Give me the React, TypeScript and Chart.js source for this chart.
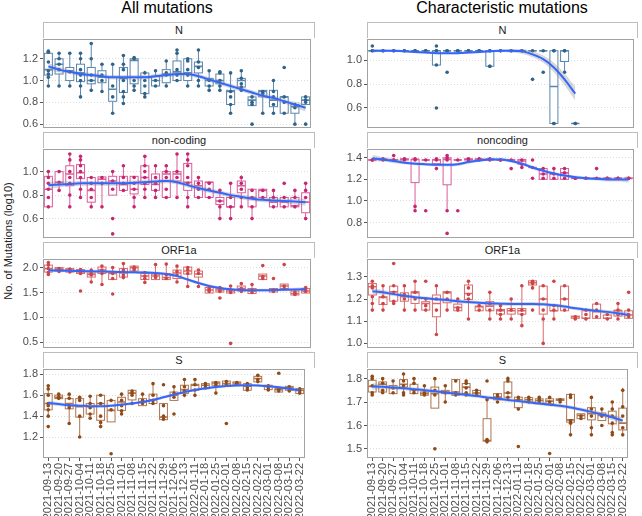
import React, { useEffect, useRef } from "react";
import { Chart, registerables } from "chart.js";
Chart.register(...registerables);

const FONT = "'Liberation Sans', Arial, sans-serif";

const weeks = ["2021-09-13","2021-09-20","2021-09-27","2021-10-04","2021-10-11","2021-10-18","2021-10-25","2021-11-01","2021-11-08","2021-11-15","2021-11-22","2021-11-29","2021-12-06","2021-12-13","2022-01-11","2022-01-18","2022-01-25","2022-02-01","2022-02-08","2022-02-15","2022-02-22","2022-03-01","2022-03-08","2022-03-15","2022-03-22"];

// ---------- All mutations: N ----------
const nAllTicks = [0.6, 0.8, 1.0, 1.2];
const nAllBox = [[0.95,1.05,1.10,1.25,1.27],[0.95,1.06,1.15,1.20,1.25],[0.95,1.00,1.09,1.12,1.25],[0.85,0.99,1.07,1.15,1.25],[0.91,0.97,1.00,1.12,1.34],[0.90,0.98,1.03,1.09,1.15],[0.70,0.81,0.92,1.03,1.15],[0.79,0.89,1.02,1.12,1.23],[0.91,0.97,1.185,1.20,1.21],[0.85,0.88,1.03,1.07,1.09],[0.95,0.95,1.00,1.04,1.09],[0.95,0.98,1.06,1.10,1.18],[1.00,1.00,1.08,1.18,1.28],[0.95,1.00,1.07,1.20,1.20],[0.95,1.07,1.13,1.17,1.28],[0.91,0.95,1.00,1.02,1.09],[0.91,0.97,1.00,1.06,1.09],[0.70,0.78,0.90,0.91,1.07],[0.91,0.94,1.00,1.02,1.09],[0.77,0.77,0.82,0.85,0.85],[0.70,0.85,0.90,0.91,0.91],[0.70,0.76,0.82,0.91,1.00],[0.70,0.70,0.85,0.85,0.85],[0.60,0.70,0.76,0.78,0.78],[0.78,0.78,0.82,0.85,0.85]];
const nAllPts = [[1.27,1.26,1.17,1.09,1.06,1.03,0.95],[1.25,1.20,1.15,1.10,0.95],[1.25,1.08,0.95],[1.25,1.20,1.10,1.05,1.00,0.95,0.85],[1.34,1.20,1.05,1.00,0.91],[1.15,1.05,1.00,0.90],[1.15,0.95,0.85,0.70],[1.23,1.15,1.10,1.00,0.90,0.85,0.79],[1.21,1.20,1.00,0.95,0.91],[1.07,1.00,0.95,0.88,0.85],[1.09,1.00,0.95],[1.18,1.07,1.05,0.95],[1.28,1.25,1.10,1.05,1.00],[1.20,1.18,1.10,1.05,0.95],[1.28,1.17,1.12,1.00,0.95],[1.09,1.00,0.95,0.91],[1.08,1.07,1.00,0.95,0.91],[1.07,0.90,0.85,0.78,0.70],[1.09,1.02,0.97,0.94,0.91],[0.85,0.80,0.78,0.60],[0.90,0.88,0.70],[1.00,0.90,0.85,0.78,0.70],[1.12,0.85,0.80,0.70],[0.78,0.75,0.60],[0.85,0.82,0.80,0.60]];
const nAllFit = [1.13,1.10,1.08,1.06,1.05,1.04,1.03,1.03,1.03,1.03,1.04,1.05,1.06,1.06,1.04,1.01,0.98,0.95,0.92,0.89,0.86,0.84,0.81,0.78,0.75];
const nAllSe = [0.03,0.025,0.02,0.02,0.02,0.02,0.02,0.02,0.02,0.02,0.02,0.02,0.02,0.02,0.02,0.02,0.02,0.02,0.02,0.02,0.02,0.02,0.02,0.025,0.035];

// ---------- Characteristic: N ----------
const nChTicks = [0.6, 0.8, 1.0];
const F108 = [1.08,1.08,1.08,1.08,1.08];
const nChBox = [F108,F108,F108,F108,F108,F108,[0.96,0.96,1.08,1.08,1.08],F108,F108,F108,F108,[0.95,0.95,1.08,1.08,1.08],F108,F108,F108,F108,F108,[0.47,0.47,0.78,1.08,1.08],[0.90,0.99,1.08,1.08,1.08],[0.47,0.47,0.47,0.47,0.47],null,null,null,null,null];
const nChPts = [[1.12,1.08,1.08],[1.08,1.08],[1.08,1.08],[1.08,1.08],[1.08,1.08],[1.08,1.08],[1.12,1.08,1.08,0.96,0.60],[1.08,1.08,0.90],[1.08,1.08],[1.08,1.08],[1.08,1.08],[1.08,1.08,0.95,0.95],[1.08,1.08],[1.08,1.08],[1.08,1.08],[1.08,0.84],[1.08,0.90],[1.08,1.08,0.47,0.47],[1.08,1.08,0.90],[0.47,0.47],[],[],[],[],[]];
const nChFit = [1.08,1.08,1.08,1.075,1.07,1.065,1.06,1.06,1.06,1.065,1.07,1.075,1.08,1.08,1.075,1.05,1.01,0.94,0.84,0.72,null,null,null,null,null];
const nChSe = [0.015,0.01,0.01,0.01,0.01,0.01,0.01,0.01,0.01,0.01,0.01,0.01,0.01,0.015,0.02,0.025,0.03,0.04,0.05,0.06,null,null,null,null,null];

// ---------- All mutations: non-coding ----------
const ncAllTicks = [0.6, 0.8, 1.0];
const ncAllBox = [[0.70,0.70,0.85,0.96,1.00],[0.84,0.89,0.91,1.00,1.00],[0.70,0.88,0.98,1.05,1.15],[0.78,0.94,0.99,1.06,1.13],[0.70,0.74,0.84,0.95,0.95],[0.70,0.90,0.935,0.955,0.955],[0.80,0.80,0.92,0.96,1.00],[0.84,0.84,0.89,0.96,1.05],[0.70,0.81,0.85,0.96,0.96],[0.78,0.89,0.95,1.05,1.13],[0.78,0.84,0.89,0.98,1.05],[0.78,0.78,0.98,1.00,1.05],[0.78,0.92,0.98,1.00,1.15],[0.70,0.84,0.91,1.07,1.15],[0.78,0.78,0.88,0.92,0.96],[0.78,0.78,0.91,0.91,0.91],[0.60,0.72,0.75,0.78,0.85],[0.60,0.70,0.70,0.78,0.91],[0.70,0.82,0.88,0.92,0.97],[0.60,0.70,0.78,0.85,0.85],[0.78,0.78,0.84,0.85,0.85],[0.70,0.70,0.74,0.78,0.84],[0.70,0.70,0.74,0.78,0.78],[0.70,0.70,0.71,0.78,0.84],[0.60,0.65,0.74,0.82,0.90]];
const ncAllPts = [[1.00,0.95,0.90,0.85,0.78,0.70],[1.00,0.91,0.84],[1.15,1.10,1.00,0.95,0.90,0.80,0.70],[1.13,1.10,1.05,1.00,0.95,0.85,0.78],[0.95,0.90,0.85,0.78,0.70],[0.95,0.90,0.70],[1.00,0.92,0.85,0.60,0.47],[1.05,0.95,0.90,0.84],[0.95,0.90,0.85,0.78,0.70],[1.13,1.05,1.00,0.95,0.90,0.85,0.78],[1.05,0.95,0.90,0.84,0.78],[1.05,1.00,0.95,0.85,0.78],[1.15,1.00,0.95,0.78],[1.15,1.10,1.05,0.95,0.90,0.78,0.70],[0.95,0.90,0.85,0.78],[0.90,0.85,0.78],[0.84,0.75,0.70,0.60],[0.90,0.78,0.70,0.60],[0.95,0.90,0.85,0.78,0.70],[0.84,0.78,0.70,0.60],[0.84,0.78],[0.84,0.78,0.70],[0.90,0.78,0.70],[0.84,0.78,0.70],[0.90,0.84,0.78,0.60]];
const ncAllFit = [0.885,0.89,0.895,0.90,0.90,0.90,0.90,0.90,0.905,0.91,0.915,0.92,0.91,0.885,0.86,0.84,0.82,0.80,0.785,0.77,0.76,0.755,0.75,0.745,0.74];
const ncAllSe = [0.03,0.025,0.02,0.02,0.02,0.02,0.02,0.02,0.02,0.02,0.02,0.02,0.02,0.02,0.02,0.02,0.02,0.02,0.02,0.02,0.02,0.02,0.02,0.025,0.03];

// ---------- Characteristic: noncoding ----------
const ncChTicks = [0.8, 1.0, 1.2, 1.4];
const F138 = [1.38,1.38,1.38,1.38,1.38];
const F139 = [1.38,1.38,1.385,1.39,1.39];
const F121 = [1.21,1.21,1.21,1.21,1.21];
const ncChBox = [F138,F139,[1.38,1.38,1.38,1.385,1.385],F139,[0.91,1.17,1.385,1.385,1.39],F138,[1.34,1.345,1.38,1.385,1.39],[0.91,1.15,1.385,1.40,1.42],F138,F139,F139,F139,F138,F138,[1.31,1.34,1.37,1.385,1.385],[1.31,1.31,1.31,1.31,1.31],[1.20,1.20,1.25,1.30,1.30],[1.20,1.20,1.25,1.25,1.30],[1.20,1.20,1.26,1.30,1.30],F121,F121,F121,F121,F121,F121];
const ncChPts = [[1.38,1.38],[1.39,1.38],[1.42,1.38,1.38],[1.39,1.38],[1.39,1.38,0.95,0.91],[1.38,0.91],[1.39,1.38,1.30],[1.42,1.40,1.38,0.91,0.70],[1.38,0.91],[1.39,1.38],[1.39,1.38],[1.39,1.38],[1.38,1.38],[1.38,1.30],[1.38,1.34,1.31],[1.38,1.31,1.21],[1.30,1.25,1.21],[1.30,1.25,1.21],[1.30,1.26,1.21],[1.21,1.21],[1.21,1.21],[1.30,1.21],[1.21,1.21],[1.21,1.21],[1.21,1.21]];
const ncChFit = [1.395,1.385,1.37,1.355,1.345,1.34,1.335,1.335,1.34,1.36,1.375,1.385,1.385,1.37,1.345,1.31,1.28,1.255,1.235,1.22,1.21,1.205,1.20,1.20,1.20];
const ncChSe = [0.03,0.02,0.02,0.015,0.015,0.015,0.015,0.015,0.015,0.015,0.015,0.015,0.015,0.015,0.015,0.015,0.015,0.015,0.015,0.015,0.015,0.015,0.02,0.02,0.03];

// ---------- All mutations: ORF1a ----------
const orfAllTicks = [0.5, 1.0, 1.5, 2.0];
const orfAllBox = [[1.85,1.91,1.98,2.05,2.11],[1.92,1.93,1.97,2.00,2.00],[1.91,1.91,1.95,1.98,1.98],[1.88,1.88,1.91,1.96,1.96],[1.71,1.81,1.86,1.89,1.95],[1.68,1.88,1.95,2.01,2.05],[1.76,1.76,1.88,1.91,2.01],[1.76,1.81,1.89,1.98,2.09],[1.93,1.93,2.00,2.03,2.03],[1.70,1.76,1.83,1.88,1.93],[1.76,1.76,1.83,1.87,2.07],[1.76,1.76,1.80,1.88,2.08],[1.71,1.78,1.89,1.95,2.04],[1.61,1.87,1.93,2.01,2.03],[1.61,1.81,1.87,1.93,1.96],[1.49,1.49,1.55,1.60,1.60],[1.51,1.51,1.55,1.58,1.60],[1.49,1.49,1.53,1.56,1.65],[1.53,1.53,1.58,1.63,1.69],[1.48,1.48,1.53,1.58,1.68],[1.76,1.76,1.83,1.87,1.87],[1.51,1.51,1.55,1.58,1.58],[1.58,1.58,1.63,1.67,1.67],[1.45,1.45,1.48,1.53,1.53],[1.49,1.49,1.53,1.58,1.61]];
const orfAllPts = [[2.10,2.05,1.98,1.90,1.86],[1.98,1.95,1.92],[1.97,1.94,1.91],[1.96,1.92,1.88,1.53],[1.95,1.88,1.85,1.71],[2.03,1.95,1.88,1.66],[2.00,1.88,1.78,1.47],[2.08,1.95,1.85,1.80],[2.01,1.98,1.95],[1.90,1.83,1.78,1.70],[2.06,1.85,1.80],[2.07,1.85,1.78],[2.03,1.92,1.85,1.71],[2.00,1.95,1.88,1.62],[1.95,1.88,1.62],[1.58,1.55,1.52],[1.60,1.55,1.52,1.39],[1.63,1.55,1.50,0.48],[1.68,1.58,1.52],[1.66,1.55,1.50],[2.04,1.82,1.78],[1.78,1.55,1.52],[2.06,1.63,1.58],[1.51,1.48,1.46],[1.60,1.55,1.52]];
const orfAllFit = [1.945,1.94,1.935,1.93,1.925,1.92,1.915,1.91,1.905,1.90,1.89,1.87,1.83,1.76,1.69,1.63,1.59,1.565,1.55,1.545,1.545,1.55,1.555,1.56,1.565];
const orfAllSe = [0.045,0.035,0.03,0.03,0.03,0.03,0.03,0.03,0.03,0.03,0.03,0.03,0.03,0.03,0.03,0.03,0.03,0.03,0.03,0.03,0.03,0.03,0.03,0.035,0.045];

// ---------- Characteristic: ORF1a ----------
const orfChTicks = [1.0, 1.1, 1.2, 1.3];
const orfChBox = [[1.147,1.218,1.255,1.27,1.28],[1.147,1.175,1.207,1.21,1.258],[1.177,1.19,1.233,1.258,1.258],[1.147,1.19,1.21,1.228,1.258],[1.147,1.18,1.228,1.233,1.28],[1.147,1.15,1.18,1.188,1.20],[1.042,1.12,1.18,1.218,1.258],[1.147,1.183,1.228,1.233,1.233],[1.147,1.147,1.162,1.177,1.20],[1.113,1.198,1.225,1.263,1.28],[1.147,1.147,1.165,1.168,1.168],[1.113,1.147,1.168,1.188,1.233],[1.113,1.132,1.147,1.153,1.168],[1.113,1.132,1.147,1.157,1.20],[1.078,1.132,1.147,1.157,1.258],[1.243,1.263,1.273,1.282,1.282],[1.0,1.132,1.20,1.258,1.258],[1.113,1.147,1.147,1.173,1.173],[1.147,1.147,1.20,1.258,1.258],[1.113,1.113,1.12,1.123,1.123],[1.113,1.113,1.113,1.147,1.147],[1.113,1.113,1.143,1.177,1.177],[1.113,1.113,1.113,1.128,1.128],[1.113,1.123,1.147,1.15,1.177],[1.113,1.113,1.128,1.147,1.147]];
const orfChPts = [[1.28,1.26,1.25,1.21,1.18,1.15],[1.26,1.21,1.18,1.15],[1.36,1.26,1.23,1.19,1.18],[1.26,1.22,1.20,1.15],[1.28,1.23,1.20,1.15],[1.28,1.20,1.17,1.15],[1.26,1.20,1.15,1.04],[1.23,1.20,1.15],[1.20,1.16,1.15],[1.28,1.25,1.22,1.20,1.11],[1.17,1.15],[1.23,1.18,1.15,1.11],[1.17,1.15,1.13,1.11],[1.20,1.15,1.11],[1.26,1.15,1.13,1.08],[1.28,1.27,1.25,1.15],[1.26,1.20,1.15,1.11,1.00],[1.28,1.17,1.15,1.11],[1.26,1.20,1.15],[1.12,1.11],[1.15,1.13,1.11],[1.18,1.15,1.12],[1.13,1.11],[1.18,1.15,1.13,1.11],[1.23,1.15,1.13,1.12]];
const orfChFit = [1.235,1.23,1.222,1.215,1.208,1.203,1.199,1.195,1.19,1.186,1.183,1.18,1.179,1.178,1.178,1.178,1.176,1.172,1.166,1.158,1.152,1.147,1.142,1.136,1.128];
const orfChSe = [0.013,0.011,0.009,0.008,0.008,0.008,0.008,0.008,0.008,0.008,0.008,0.008,0.008,0.008,0.008,0.008,0.008,0.008,0.008,0.008,0.008,0.008,0.009,0.011,0.013];

// ---------- All mutations: S ----------
const sAllTicks = [1.2, 1.4, 1.6, 1.8];
const sAllBox = [[1.39,1.46,1.52,1.615,1.695],[1.567,1.567,1.58,1.60,1.61],[1.33,1.47,1.52,1.567,1.615],[1.20,1.39,1.49,1.567,1.58],[1.375,1.42,1.49,1.52,1.60],[1.30,1.36,1.52,1.60,1.60],[1.345,1.345,1.455,1.55,1.55],[1.42,1.455,1.535,1.58,1.615],[1.52,1.555,1.62,1.647,1.647],[1.50,1.50,1.535,1.567,1.615],[1.52,1.52,1.557,1.61,1.717],[1.366,1.366,1.39,1.52,1.52],[1.55,1.55,1.60,1.63,1.695],[1.58,1.615,1.653,1.695,1.76],[1.58,1.647,1.695,1.704,1.76],[1.663,1.663,1.695,1.71,1.71],[1.615,1.695,1.717,1.727,1.727],[1.685,1.685,1.71,1.735,1.735],[1.704,1.704,1.717,1.727,1.727],[1.647,1.647,1.685,1.71,1.71],[1.727,1.727,1.76,1.78,1.79],[1.653,1.653,1.685,1.695,1.695],[1.63,1.63,1.653,1.663,1.663],[1.647,1.647,1.67,1.685,1.685],[1.615,1.615,1.647,1.663,1.663]];
const sAllPts = [[1.69,1.66,1.60,1.52,1.50,1.46,1.40,1.30],[1.61,1.58,1.57],[1.61,1.57,1.50,1.48,1.33],[1.58,1.55,1.40,1.20],[1.59,1.52,1.48,1.42,1.38],[1.60,1.52,1.40,1.34,1.30],[1.55,1.46,1.04],[1.61,1.55,1.50,1.45,1.42],[1.64,1.62,1.60,1.52],[1.61,1.55,1.52],[1.71,1.60,1.55,1.52],[1.70,1.50,1.40,1.37],[1.68,1.62,1.58,1.42],[1.75,1.68,1.64,1.60],[1.75,1.70,1.65,1.60],[1.71,1.69,1.67],[1.72,1.70,1.62],[1.73,1.70,1.33],[1.72,1.71],[1.71,1.67,1.65],[1.79,1.75,1.73],[1.69,1.67,1.65],[1.81,1.66,1.64],[1.68,1.66,1.64],[1.66,1.64,1.62]];
const sAllFit = [1.525,1.515,1.505,1.50,1.495,1.495,1.50,1.51,1.52,1.535,1.555,1.58,1.605,1.63,1.65,1.665,1.678,1.688,1.693,1.695,1.693,1.685,1.675,1.662,1.645];
const sAllSe = [0.022,0.018,0.015,0.013,0.013,0.013,0.013,0.013,0.013,0.013,0.013,0.013,0.013,0.013,0.013,0.013,0.013,0.013,0.013,0.013,0.013,0.013,0.015,0.018,0.022];

// ---------- Characteristic: S ----------
const sChTicks = [1.5, 1.6, 1.7, 1.8];
const sChBox = [[1.729,1.743,1.767,1.793,1.814],[1.743,1.743,1.776,1.786,1.804],[1.736,1.736,1.761,1.771,1.796],[1.729,1.764,1.776,1.796,1.824],[1.736,1.736,1.753,1.776,1.804],[1.729,1.729,1.736,1.743,1.771],[1.674,1.674,1.736,1.764,1.804],[1.70,1.736,1.743,1.75,1.771],[1.729,1.729,1.743,1.796,1.796],[1.729,1.736,1.764,1.779,1.796],[1.729,1.729,1.739,1.75,1.75],[1.533,1.533,1.536,1.629,1.714],[1.71,1.71,1.721,1.736,1.736],[1.721,1.721,1.739,1.786,1.81],[1.676,1.676,1.71,1.721,1.721],[1.70,1.70,1.71,1.719,1.719],[1.693,1.693,1.707,1.714,1.72],[1.693,1.693,1.704,1.714,1.72],[1.707,1.707,1.710,1.714,1.714],[1.557,1.614,1.624,1.733,1.733],[1.629,1.629,1.643,1.65,1.65],[1.557,1.624,1.65,1.676,1.721],[1.621,1.621,1.643,1.653,1.676],[1.557,1.607,1.636,1.661,1.704],[1.557,1.581,1.61,1.674,1.761]];
const sChPts = [[1.81,1.80,1.77,1.74,1.73],[1.80,1.78,1.75,1.74],[1.79,1.76,1.74],[1.82,1.79,1.77,1.74,1.73],[1.80,1.78,1.75,1.74],[1.77,1.74,1.73],[1.80,1.75,1.73,1.50],[1.77,1.74,1.70],[1.79,1.74,1.73],[1.79,1.78,1.76,1.74,1.73],[1.75,1.74,1.73],[1.79,1.71,1.54,1.535,1.53],[1.73,1.72,1.70],[1.80,1.79,1.74,1.72],[1.72,1.71,1.67,1.51],[1.72,1.71,1.70],[1.72,1.71,1.70],[1.72,1.70,1.48],[1.71,1.70],[1.73,1.72,1.62,1.61,1.56],[1.64,1.63],[1.72,1.67,1.64,1.59,1.56],[1.67,1.64,1.60],[1.70,1.67,1.64,1.61,1.57,1.56],[1.75,1.68,1.64,1.59,1.56]];
const sChFit = [1.767,1.765,1.762,1.759,1.755,1.751,1.746,1.741,1.736,1.731,1.726,1.72,1.714,1.709,1.704,1.699,1.694,1.689,1.684,1.677,1.668,1.658,1.647,1.635,1.621];
const sChSe = [0.013,0.011,0.009,0.008,0.008,0.008,0.008,0.008,0.008,0.008,0.008,0.008,0.008,0.008,0.008,0.008,0.008,0.008,0.008,0.008,0.008,0.009,0.01,0.012,0.014];

// colours per gene
const colN = { box: "#5B86AC", pt: "#2F6389" };
const colNC = { box: "#DA5C9A", pt: "#C62570" };
const colORF = { box: "#D96A6B", pt: "#CD4547" };
const colS = { box: "#AD7550", pt: "#8E4A17" };

const LEFT = { x: 0, w: 315, yW: 43 };
const RIGHT = { x: 321, w: 317, yW: 46 };
const PLOT_TOPS = [38, 148, 258, 368];
const PLOT_H = 90;

type PanelDef = {
  strip: string; col: typeof LEFT; row: number; min: number; max: number;
  ticks: number[]; box: (number[] | null)[]; pts: number[][]; fit: (number | null)[]; se: (number | null)[];
  colors: { box: string; pt: string };
};

const panels: PanelDef[] = [
  { strip: "N", col: LEFT, row: 0, min: 0.57, max: 1.385, ticks: nAllTicks, box: nAllBox, pts: nAllPts, fit: nAllFit, se: nAllSe, colors: colN },
  { strip: "N", col: RIGHT, row: 0, min: 0.437, max: 1.182, ticks: nChTicks, box: nChBox, pts: nChPts, fit: nChFit, se: nChSe, colors: colN },
  { strip: "non-coding", col: LEFT, row: 1, min: 0.44, max: 1.196, ticks: ncAllTicks, box: ncAllBox, pts: ncAllPts, fit: ncAllFit, se: ncAllSe, colors: colNC },
  { strip: "noncoding", col: RIGHT, row: 1, min: 0.663, max: 1.485, ticks: ncChTicks, box: ncChBox, pts: ncChPts, fit: ncChFit, se: ncChSe, colors: colNC },
  { strip: "ORF1a", col: LEFT, row: 2, min: 0.4, max: 2.18, ticks: orfAllTicks, box: orfAllBox, pts: orfAllPts, fit: orfAllFit, se: orfAllSe, colors: colORF },
  { strip: "ORF1a", col: RIGHT, row: 2, min: 0.982, max: 1.382, ticks: orfChTicks, box: orfChBox, pts: orfChPts, fit: orfChFit, se: orfChSe, colors: colORF },
  { strip: "S", col: LEFT, row: 3, min: 1.0, max: 1.854, ticks: sAllTicks, box: sAllBox, pts: sAllPts, fit: sAllFit, se: sAllSe, colors: colS },
  { strip: "S", col: RIGHT, row: 3, min: 1.461, max: 1.843, ticks: sChTicks, box: sChBox, pts: sChPts, fit: sChFit, se: sChSe, colors: colS },
];

function Panel({ p }: { p: PanelDef }) {
  const ref = useRef<HTMLCanvasElement | null>(null);
  const showX = p.row === 3;
  const top = PLOT_TOPS[p.row] - 8;
  const h = showX ? 516 - top : PLOT_H + 16;

  useEffect(() => {
    const canvas = ref.current;
    if (!canvas) return;
    const ptsData: { x: string; y: number }[] = [];
    p.pts.forEach((arr, i) => arr.forEach((v) => ptsData.push({ x: weeks[i], y: v })));
    const upper = p.fit.map((v, i) => (v == null ? null : v + (p.se[i] as number)));
    const lower = p.fit.map((v, i) => (v == null ? null : v - (p.se[i] as number)));

    const boxPlugin = {
      id: "boxes",
      beforeDatasetsDraw(chart: any) {
        const { ctx, chartArea, scales } = chart;
        const xs = scales.x, ys = scales.y;
        const cw = xs.getPixelForValue(1) - xs.getPixelForValue(0);
        const hw = cw * 0.375;
        ctx.save();
        ctx.beginPath();
        ctx.rect(chartArea.left, chartArea.top, chartArea.width, chartArea.height);
        ctx.clip();
        ctx.strokeStyle = p.colors.box;
        p.box.forEach((b, i) => {
          if (!b) return;
          const [lo, q1, med, q3, hi] = b;
          const cx = xs.getPixelForValue(i);
          const yLo = ys.getPixelForValue(lo), yQ1 = ys.getPixelForValue(q1);
          const yMed = ys.getPixelForValue(med), yQ3 = ys.getPixelForValue(q3), yHi = ys.getPixelForValue(hi);
          ctx.lineWidth = 1;
          ctx.beginPath();
          ctx.moveTo(cx, yQ3); ctx.lineTo(cx, yHi);
          ctx.moveTo(cx, yQ1); ctx.lineTo(cx, yLo);
          ctx.stroke();
          ctx.fillStyle = "#ffffff";
          ctx.fillRect(cx - hw, yQ3, hw * 2, yQ1 - yQ3);
          ctx.strokeRect(cx - hw, yQ3, hw * 2, yQ1 - yQ3);
          ctx.lineWidth = 1.6;
          ctx.beginPath();
          ctx.moveTo(cx - hw, yMed); ctx.lineTo(cx + hw, yMed);
          ctx.stroke();
        });
        ctx.restore();
      },
      afterDraw(chart: any) {
        const { ctx, chartArea } = chart;
        ctx.save();
        ctx.strokeStyle = "#A2A2A2";
        ctx.lineWidth = 1;
        ctx.strokeRect(Math.round(chartArea.left) + 0.5, Math.round(chartArea.top) + 0.5,
          Math.round(chartArea.width) - 1, Math.round(chartArea.height) - 1);
        ctx.restore();
      },
    };

    const chart = new Chart(canvas, {
      type: "line",
      data: {
        labels: weeks,
        datasets: [
          { data: p.fit, borderColor: "#3366FF", borderWidth: 2, pointRadius: 0, fill: false, tension: 0.4, cubicInterpolationMode: "monotone", spanGaps: false, order: 0 } as any,
          { data: upper, borderWidth: 0, borderColor: "rgba(0,0,0,0)", pointRadius: 0, fill: false, tension: 0.4, cubicInterpolationMode: "monotone", order: 2 } as any,
          { data: lower, borderWidth: 0, borderColor: "rgba(0,0,0,0)", pointRadius: 0, fill: "-1", backgroundColor: "rgba(140,140,140,0.35)", tension: 0.4, cubicInterpolationMode: "monotone", order: 1 } as any,
          { data: ptsData, showLine: false, pointRadius: 1.8, pointBorderWidth: 0, pointBackgroundColor: p.colors.pt, borderColor: p.colors.pt, backgroundColor: p.colors.pt, order: 3 } as any,
        ],
      },
      options: {
        responsive: false,
        animation: false,
        events: [],
        layout: { padding: { left: 0, right: 0, top: 8, bottom: showX ? 0 : 8 } },
        plugins: { legend: { display: false }, tooltip: { enabled: false } },
        scales: {
          x: {
            type: "category",
            offset: true,
            display: showX,
            grid: { display: true, drawOnChartArea: false, drawTicks: true, tickLength: 3, tickColor: "#555555" },
            border: { display: false },
            ticks: { autoSkip: false, minRotation: 90, maxRotation: 90, padding: 2, color: "#4D4D4D", font: { family: FONT, size: 11 } },
            afterFit: (s: any) => { s.height = showX ? 58 : 0; },
          },
          y: {
            type: "linear",
            min: p.min,
            max: p.max,
            afterBuildTicks: (s: any) => { s.ticks = p.ticks.map((v) => ({ value: v })); },
            afterFit: (s: any) => { s.width = p.col.yW; },
            grid: { color: "#DCDCDC", lineWidth: 1, drawOnChartArea: true, drawTicks: true, tickLength: 3, tickColor: "#555555" },
            border: { display: false, dash: [1, 2] },
            ticks: { padding: 2, color: "#4D4D4D", font: { family: FONT, size: 11 }, callback: (v: any) => Number(v).toFixed(1) },
          },
        },
      } as any,
      plugins: [boxPlugin],
    });
    return () => chart.destroy();
  }, []);

  return (
    <canvas
      ref={ref}
      width={p.col.w}
      height={h}
      style={{ position: "absolute", left: p.col.x, top, width: p.col.w, height: h }}
    />
  );
}

function Strip({ p }: { p: PanelDef }) {
  const left = p.col.x + p.col.yW;
  const width = p.col.w - p.col.yW;
  const top = PLOT_TOPS[p.row] - 16;
  return (
    <div
      style={{
        position: "absolute", left, top, width, height: 16, boxSizing: "border-box",
        border: "1px solid #BDBDBD", borderBottom: "none", background: "#FFFFFF", color: "#1A1A1A",
        fontSize: 11, lineHeight: "15px", textAlign: "center", fontFamily: FONT,
      }}
    >
      {p.strip}
    </div>
  );
}

export default function App() {
  return (
    <div style={{ position: "fixed", left: 0, top: 0, width: 642, height: 516, background: "#FFFFFF", overflow: "hidden", fontFamily: FONT }}>
      <div style={{ position: "absolute", left: 67, top: 0, width: 200, textAlign: "center", fontSize: 16, lineHeight: "16px", color: "#000" }}>All mutations</div>
      <div style={{ position: "absolute", left: 382, top: 0, width: 240, textAlign: "center", fontSize: 16, lineHeight: "16px", color: "#000" }}>Characteristic mutations</div>
      <div style={{ position: "absolute", left: 8, top: 241, width: 0, height: 0 }}>
        <div style={{ position: "absolute", left: -100, top: -7, width: 200, textAlign: "center", fontSize: 11, lineHeight: "14px", color: "#222", transform: "rotate(-90deg)", whiteSpace: "nowrap" }}>
          No. of Mutations (log10)
        </div>
      </div>
      {panels.map((p, i) => <Strip key={"s" + i} p={p} />)}
      {panels.map((p, i) => <Panel key={"p" + i} p={p} />)}
    </div>
  );
}
